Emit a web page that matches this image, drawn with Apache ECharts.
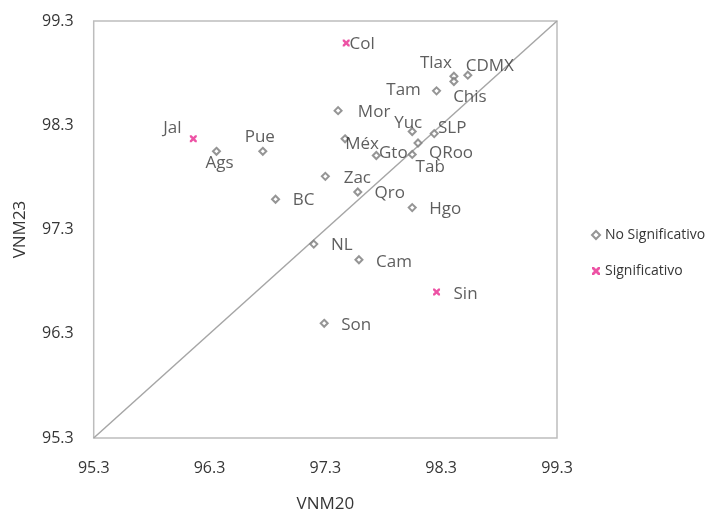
<!DOCTYPE html>
<html>
<head>
<meta charset="utf-8">
<script src="https://cdn.jsdelivr.net/npm/echarts@6/dist/echarts.min.js"></script>
<style>
html,body{margin:0;padding:0;background:#fff;}
#c{width:707px;height:516px;}
</style>
</head>
<body>
<div id="c"></div>
<script>
// ---- data ----
var axisTicks = [95.3, 96.3, 97.3, 98.3, 99.3];
var diagonal = [95.3, 99.3];

var nsNames = ['Ags','Pue','BC','Zac','Mor','Méx','Gto','Qro','Yuc','SLP','QRoo','Tab','Hgo','Tam','Tlax','Chis','CDMX','NL','Cam','Son'];
var nsVNM20 = [96.36, 96.76, 96.87, 97.30, 97.41, 97.47, 97.74, 97.58, 98.05, 98.24, 98.10, 98.05, 98.05, 98.26, 98.41, 98.41, 98.53, 97.20, 97.59, 97.29];
var nsVNM23 = [98.05, 98.05, 97.59, 97.81, 98.44, 98.17, 98.01, 97.66, 98.24, 98.22, 98.13, 98.02, 97.51, 98.63, 98.77, 98.72, 98.78, 97.16, 97.01, 96.40];

var sNames = ['Jal','Col','Sin'];
var sVNM20 = [96.16, 97.48, 98.26];
var sVNM23 = [98.17, 99.09, 96.70];

// label offsets (px) relative to marker centre
var labelOffsets = {
  'Jal':[-21,-11],'Ags':[3,12],'Pue':[-3,-14],'BC':[28,1],'Col':[16,1],
  'Tlax':[-18,-13],'CDMX':[22,-9],'Chis':[16,16],'Tam':[-33,-1],'Mor':[36,2],
  'Yuc':[-4,-8],'SLP':[18,-5],'QRoo':[33,10],'Tab':[18,13],'Gto':[17,-2],
  'Méx':[17,5],'Zac':[32,2],'Qro':[32,1],'Hgo':[33,2],'NL':[28,1],
  'Cam':[35,2],'Sin':[29,2],'Son':[32,2]
};

var FONT = 'Open Sans';
var TXT = '#363636';
function build(names, xs, ys) {
  return names.map(function (n, i) {
    return {
      name: n,
      value: [xs[i], ys[i]],
      label: { offset: labelOffsets[n] || [0, 0] }
    };
  });
}

var xPath = 'path://M0,0 L2.5,0 L5,2.5 L7.5,0 L10,0 L10,2.5 L7.5,5 L10,7.5 L10,10 L7.5,10 L5,7.5 L2.5,10 L0,10 L0,7.5 L2.5,5 L0,2.5 Z';

var labelStyle = {
  show: true,
  position: 'inside',
  align: 'center',
  verticalAlign: 'middle',
  formatter: '{b}',
  fontFamily: FONT,
  fontSize: 17,
  color: TXT
};

var chart = echarts.init(document.getElementById('c'), null, {renderer: 'canvas'});
chart.setOption({
  backgroundColor: '#ffffff',
  animation: false,
  textStyle: { fontFamily: FONT },
  grid: {
    left: 93.7, top: 21, right: 150, bottom: 78,
    show: true, borderColor: '#bdbdbd', borderWidth: 1.5,
    containLabel: false,
    outerBoundsMode: 'none'
  },
  legend: {
    orient: 'vertical',
    left: 586,
    top: 223,
    itemWidth: 8,
    itemHeight: 8,
    itemGap: 22,
    data: ['No Significativo', 'Significativo'],
    textStyle: { fontFamily: FONT, fontSize: 14, color: TXT }
  },
  xAxis: {
    type: 'value',
    min: axisTicks[0], max: axisTicks[axisTicks.length - 1],
    name: 'VNM20',
    nameLocation: 'middle',
    nameGap: 58,
    nameTextStyle: { fontFamily: FONT, fontSize: 17, color: TXT },
    axisLine: { show: false },
    axisTick: { show: false, customValues: axisTicks },
    splitLine: { show: false },
    axisLabel: {
      customValues: axisTicks,
      margin: 22,
      fontFamily: FONT, fontSize: 16, color: TXT,
      formatter: function (v) { return v.toFixed(1); }
    }
  },
  yAxis: {
    type: 'value',
    min: axisTicks[0], max: axisTicks[axisTicks.length - 1],
    name: 'VNM23',
    nameLocation: 'middle',
    nameGap: 65,
    nameTextStyle: { fontFamily: FONT, fontSize: 17, color: TXT },
    axisLine: { show: false },
    axisTick: { show: false, customValues: axisTicks },
    splitLine: { show: false },
    axisLabel: {
      customValues: axisTicks,
      margin: 20,
      fontFamily: FONT, fontSize: 16, color: TXT,
      formatter: function (v) { return v.toFixed(1); }
    }
  },
  series: [
    {
      name: 'diag',
      type: 'line',
      data: [[diagonal[0], diagonal[0]], [diagonal[1], diagonal[1]]],
      symbol: 'none',
      lineStyle: { color: '#a6a6a6', width: 1.5 },
      silent: true,
      z: 1
    },
    {
      name: 'No Significativo',
      type: 'scatter',
      symbol: 'emptyDiamond',
      symbolSize: 7,
      itemStyle: { color: '#7a7a7a', borderColor: '#7a7a7a', borderWidth: 1.5 },
      label: labelStyle,
      data: build(nsNames, nsVNM20, nsVNM23),
      z: 3
    },
    {
      name: 'Significativo',
      type: 'scatter',
      symbol: xPath,
      symbolSize: 7,
      itemStyle: { color: '#e8288e' },
      label: labelStyle,
      data: build(sNames, sVNM20, sVNM23),
      z: 3
    }
  ]
});
</script>
</body>
</html>
